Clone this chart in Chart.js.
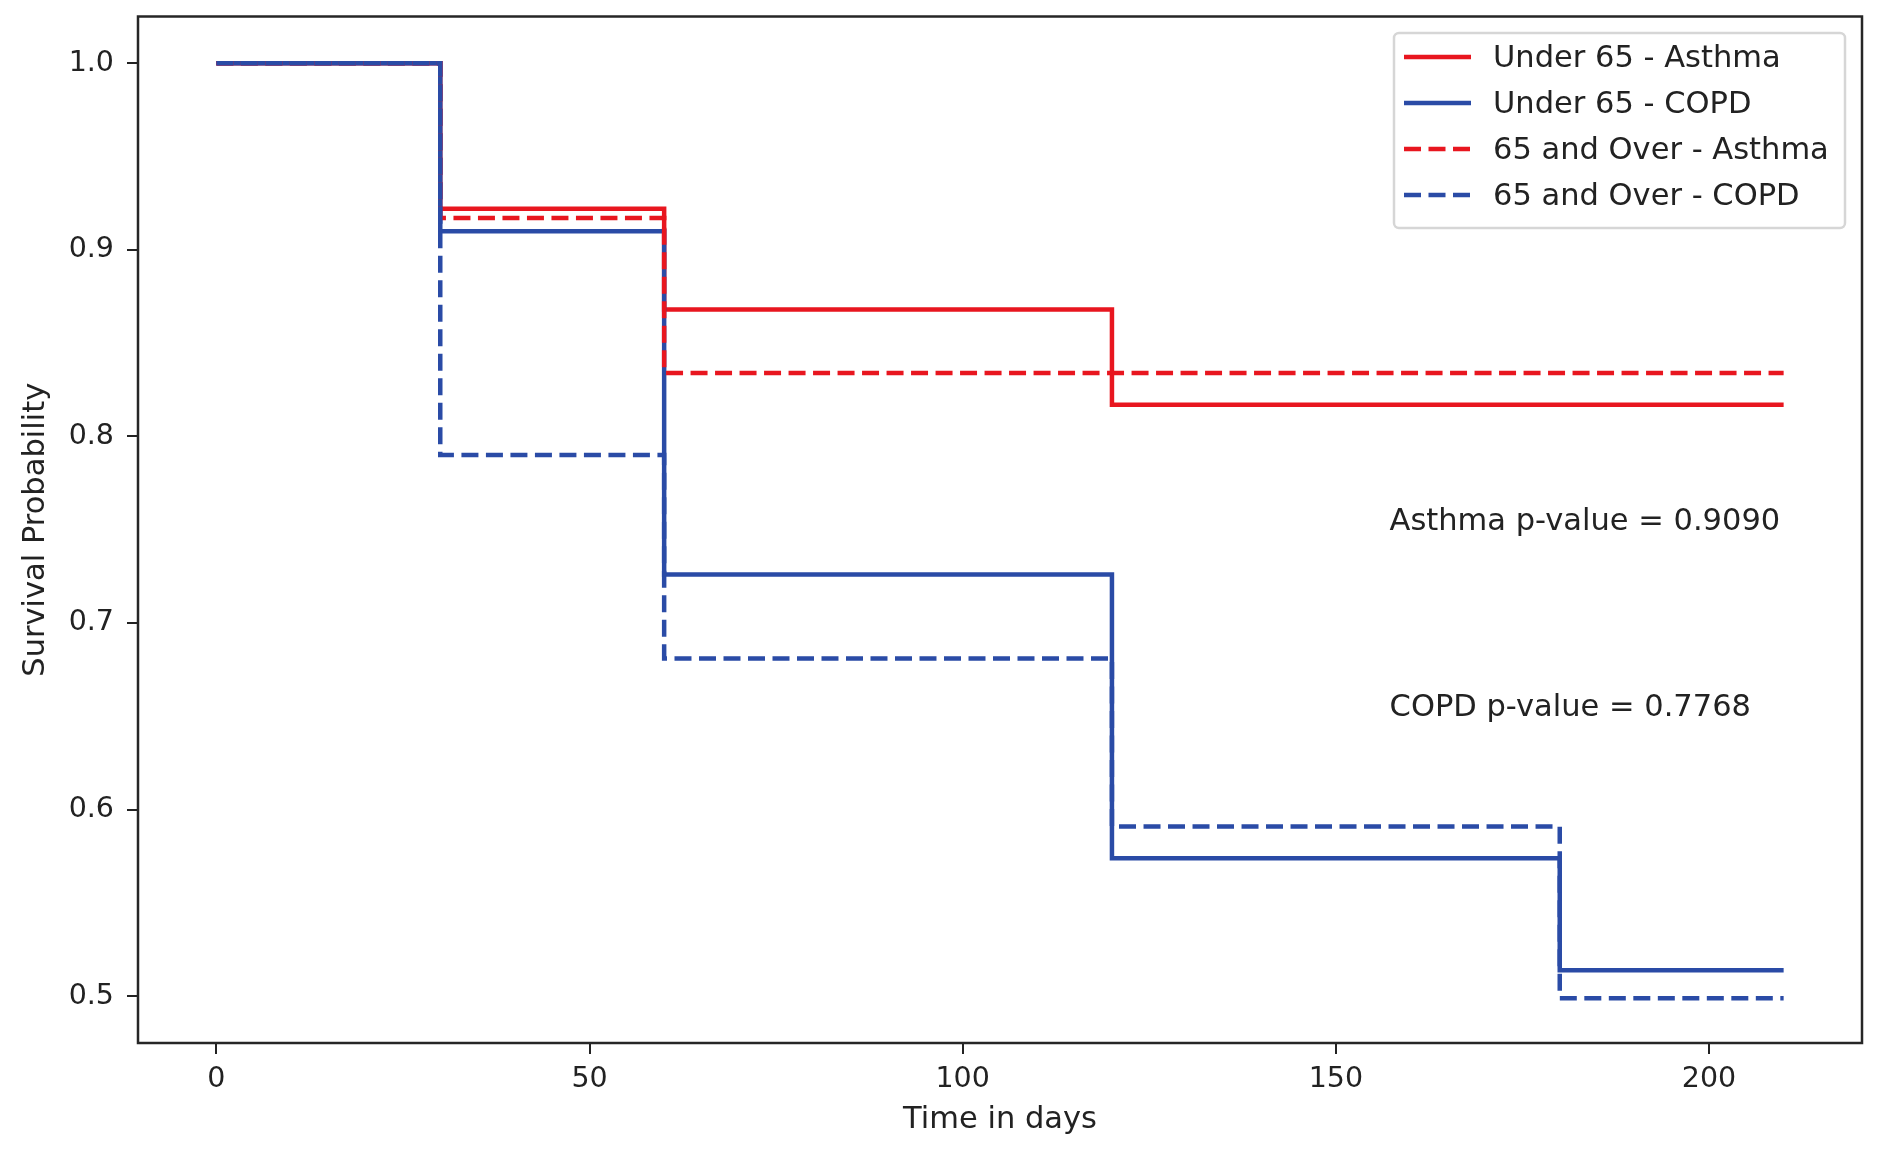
<!DOCTYPE html>
<html>
<head>
<meta charset="utf-8">
<script src="https://cdn.jsdelivr.net/npm/chart.js@4.4.0/dist/chart.umd.min.js"></script>
<style>
  html, body { margin: 0; padding: 0; background: #fff; }
  canvas { display: block; }
</style>
</head>
<body>
<canvas id="kmChart" width="1886" height="1162"></canvas>
<script>
// event times (days) and Kaplan-Meier survival estimates per group
const days = [0, 30, 60, 120, 180, 210];
const under65Asthma = [1.0, 0.922, 0.868, 0.817, 0.817, 0.817];
const under65Copd = [1.0, 0.910, 0.726, 0.574, 0.514, 0.514];
const over65Asthma = [1.0, 0.917, 0.834, 0.834, 0.834, 0.834];
const over65Copd = [1.0, 0.790, 0.681, 0.591, 0.499, 0.499];

const seriesLabels = ["Under 65 - Asthma", "Under 65 - COPD", "65 and Over - Asthma", "65 and Over - COPD"];
const xTickValues = [0, 50, 100, 150, 200];
const yTickValues = [0.5, 0.6, 0.7, 0.8, 0.9, 1.0];
const pValueNotes = ["Asthma p-value = 0.9090", "COPD p-value = 0.7768"];
const pValueAt = [[157.2, 0.75], [157.2, 0.65]];

const RED = "#e8161f";
const BLUE = "#2a4ba6";
const FONT = "'DejaVu Sans', sans-serif";
const DASH = [17, 7.5];

const toPoints = (vals) => days.map((d, i) => ({ x: d, y: vals[i] }));

const makeSet = (label, vals, color, dashed, order) => ({
  label: label,
  data: toPoints(vals),
  borderColor: color,
  backgroundColor: color,
  borderWidth: 4.5,
  borderDash: dashed ? DASH : [],
  borderCapStyle: "butt",
  stepped: "before",
  pointRadius: 0,
  fill: false,
  order: order,
});

// no extra room for edge labels, the layout is fixed by hand
const noEdgePadding = (axis) => {
  axis.paddingTop = 0;
  axis.paddingBottom = 0;
  axis.paddingLeft = 0;
  axis.paddingRight = 0;
};

// frame round the plot, like matplotlib spines
const framePlugin = {
  id: "frame",
  afterDatasetsDraw(chart) {
    const { ctx, chartArea: a } = chart;
    ctx.save();
    ctx.strokeStyle = "#262626";
    ctx.lineWidth = 2.5;
    ctx.strokeRect(a.left, a.top, a.right - a.left, a.bottom - a.top);
    ctx.restore();
  },
};

// the two p-value notes, placed in data coordinates
const notesPlugin = {
  id: "notes",
  afterDatasetsDraw(chart) {
    const { ctx, scales } = chart;
    ctx.save();
    ctx.fillStyle = "#222";
    ctx.font = "30.5px " + FONT;
    ctx.textAlign = "left";
    ctx.textBaseline = "alphabetic";
    pValueNotes.forEach((txt, i) => {
      const px = scales.x.getPixelForValue(pValueAt[i][0]);
      const py = scales.y.getPixelForValue(pValueAt[i][1]);
      ctx.fillText(txt, px, py);
    });
    ctx.restore();
  },
};

// matplotlib-style legend box in the upper right corner
const legendPlugin = {
  id: "mplLegend",
  afterDraw(chart) {
    const { ctx } = chart;
    const x0 = 1394, y0 = 33, w = 451, h = 195, r = 5;
    ctx.save();
    ctx.beginPath();
    ctx.moveTo(x0 + r, y0);
    ctx.lineTo(x0 + w - r, y0);
    ctx.arcTo(x0 + w, y0, x0 + w, y0 + r, r);
    ctx.lineTo(x0 + w, y0 + h - r);
    ctx.arcTo(x0 + w, y0 + h, x0 + w - r, y0 + h, r);
    ctx.lineTo(x0 + r, y0 + h);
    ctx.arcTo(x0, y0 + h, x0, y0 + h - r, r);
    ctx.lineTo(x0, y0 + r);
    ctx.arcTo(x0, y0, x0 + r, y0, r);
    ctx.closePath();
    ctx.fillStyle = "rgba(255,255,255,0.85)";
    ctx.fill();
    ctx.strokeStyle = "#d6d6d6";
    ctx.lineWidth = 2.5;
    ctx.stroke();

    ctx.font = "30.5px " + FONT;
    ctx.textAlign = "left";
    ctx.textBaseline = "middle";
    chart.data.datasets.forEach((ds, i) => {
      const yy = 57 + i * 46;
      ctx.beginPath();
      ctx.setLineDash(ds.borderDash);
      ctx.strokeStyle = ds.borderColor;
      ctx.lineWidth = 4.5;
      ctx.moveTo(1404, yy);
      ctx.lineTo(1471, yy);
      ctx.stroke();
      ctx.setLineDash([]);
      ctx.fillStyle = "#222";
      ctx.fillText(ds.label, 1493, yy + 2);
    });
    ctx.restore();
  },
};

new Chart(document.getElementById("kmChart"), {
  type: "line",
  data: {
    datasets: [
      makeSet(seriesLabels[0], under65Asthma, RED, false, 3),
      makeSet(seriesLabels[1], under65Copd, BLUE, false, 2),
      makeSet(seriesLabels[2], over65Asthma, RED, true, 1),
      makeSet(seriesLabels[3], over65Copd, BLUE, true, 0),
    ],
  },
  options: {
    responsive: false,
    animation: false,
    devicePixelRatio: 1,
    layout: { padding: { top: 16.5, right: 24, bottom: 0, left: 0 } },
    plugins: {
      legend: { display: false },
      tooltip: { enabled: false },
    },
    scales: {
      x: {
        type: "linear",
        min: -10.5,
        max: 220.5,
        afterBuildTicks: (axis) => { axis.ticks = xTickValues.map((v) => ({ value: v })); },
        afterFit: (axis) => { axis.height = 119; noEdgePadding(axis); },
        border: { display: false },
        grid: { drawOnChartArea: false, drawTicks: true, tickLength: 11, color: "#222", lineWidth: 2 },
        ticks: {
          color: "#222",
          font: { family: FONT, size: 28.5 },
          padding: 8,
          maxRotation: 0,
          autoSkip: false,
          callback: (v) => String(v),
        },
        title: {
          display: true,
          text: "Time in days",
          color: "#222",
          font: { family: FONT, size: 30.5 },
          padding: { top: 0, bottom: 24 },
        },
      },
      y: {
        type: "linear",
        min: 0.475,
        max: 1.025,
        afterBuildTicks: (axis) => { axis.ticks = yTickValues.map((v) => ({ value: v })); },
        afterFit: (axis) => { axis.width = 138; noEdgePadding(axis); },
        border: { display: false },
        grid: { drawOnChartArea: false, drawTicks: true, tickLength: 11, color: "#222", lineWidth: 2 },
        ticks: {
          color: "#222",
          font: { family: FONT, size: 28.5 },
          padding: 13,
          autoSkip: false,
          callback: (v) => v.toFixed(1),
        },
        title: {
          display: true,
          text: "Survival Probability",
          color: "#222",
          font: { family: FONT, size: 30.5 },
          padding: { top: 18, bottom: 0 },
        },
      },
    },
  },
  plugins: [framePlugin, notesPlugin, legendPlugin],
});
</script>
</body>
</html>
